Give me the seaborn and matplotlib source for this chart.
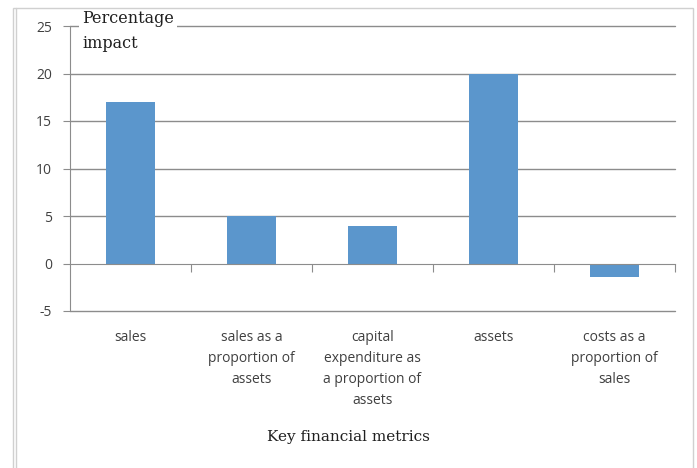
import matplotlib
matplotlib.use("Agg")
import matplotlib.pyplot as plt
import matplotlib.transforms as mtransforms
from matplotlib.patches import Rectangle
from matplotlib.lines import Line2D
import seaborn as sns
import pandas as pd

# data
metrics = ["sales", "sales as a\nproportion of\nassets",
           "capital\nexpenditure as\na proportion of\nassets",
           "assets", "costs as a\nproportion of\nsales"]
impact = [17, 5, 4, 20, -1.4]
yticks = [-5, 0, 5, 10, 15, 20, 25]

df = pd.DataFrame({"metric": metrics, "impact": impact})

sns.set_style("white")
plt.rcParams["font.family"] = ["Open Sans", "DejaVu Sans"]

W, H = 697, 468
fig = plt.figure(figsize=(W / 100, H / 100), dpi=100)
ax = fig.add_axes([70 / W, (H - 311) / H, (675 - 70) / W, (311 - 26) / H])

sns.barplot(data=df, x="metric", y="impact", ax=ax, color="#5b96cc",
            width=0.4, saturation=1, linewidth=0, zorder=3)

grid_col = "#8c8c8c"
ax.set_ylim(-5, 25)
ax.set_xlim(-0.5, len(metrics) - 0.5)
ax.set_yticks(yticks)
ax.set_yticklabels([str(t) for t in yticks], fontsize=10, color="#404040")
for t in yticks:
    if t != 0:
        ax.axhline(t, color=grid_col, lw=1, zorder=1, clip_on=False)

for s in ["top", "right"]:
    ax.spines[s].set_visible(False)
ax.spines["left"].set_color(grid_col)
ax.spines["bottom"].set_color(grid_col)
ax.spines["bottom"].set_position(("data", 0))
ax.spines["bottom"].set_zorder(4)

ax.tick_params(axis="y", length=5, color=grid_col, direction="out", pad=8, left=True)
ax.set_xticks([i + 0.5 for i in range(len(metrics))])
ax.set_xticklabels([])
ax.tick_params(axis="x", length=6, color=grid_col, direction="out", bottom=True)
ax.set_xlabel("")
ax.set_ylabel("")

# category labels below the plot area
trans = mtransforms.blended_transform_factory(ax.transData, ax.transAxes)
for i, lab in enumerate(metrics):
    ax.text(i, -0.065, lab, transform=trans, ha="center", va="top",
            fontsize=10, color="#404040", linespacing=1.55)

ax.text(0.5, (H - 437) / H, "Key financial metrics", transform=fig.transFigure,
        ha="center", va="center", fontsize=11, family="DejaVu Serif",
        color="#202020")

ax.text(82 / W, (H - 10) / H, "Percentage\nimpact", transform=fig.transFigure,
        ha="left", va="top", fontsize=11.5, family="DejaVu Serif",
        color="#202020", linespacing=1.6,
        bbox=dict(facecolor="white", edgecolor="none", pad=2), zorder=5)

# outer chart frame
fig.patches.append(Rectangle((13 / W, -0.02), (693 - 13) / W, (H - 8) / H + 0.02,
                             transform=fig.transFigure, fill=False,
                             edgecolor="#d0d0d0", lw=1))
fig.lines.append(Line2D([16 / W, 16 / W], [0, (H - 8) / H],
                        transform=fig.transFigure, color="#d0d0d0", lw=1))

fig.savefig("out.png", dpi=100)
